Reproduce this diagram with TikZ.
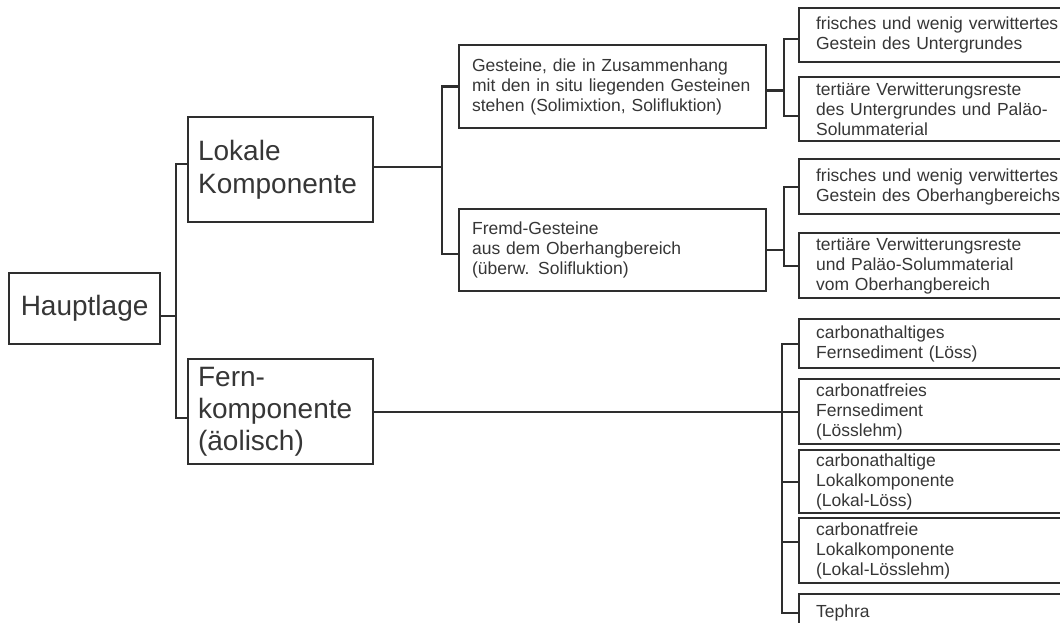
\documentclass[tikz,border=0pt]{standalone}
\usepackage{fontspec}
\setmainfont{Liberation Sans}
\definecolor{linegray}{HTML}{2E2E2E}
\definecolor{textgray}{HTML}{363636}

\begin{document}
\begin{tikzpicture}[x=1pt,y=-1pt,
    box/.style={draw=linegray,line width=2.2pt,text=textgray,anchor=north west,align=left},
    bigbox/.style={box,font=\fontsize{28}{33}\selectfont,inner xsep=10pt,text width=165pt,minimum height=105pt},
    midbox/.style={box,font=\fontsize{17.5}{20}\selectfont,inner ysep=2pt,inner xsep=13pt,text width=281pt},
    leafbox/.style={box,font=\fontsize{17.5}{20}\selectfont,inner ysep=2pt,inner xsep=17pt,text width=260pt},
    link/.style={draw=linegray,line width=2.2pt}]
\useasboundingbox (0,0) rectangle (1060,623);
\clip (0,0) rectangle (1060,623);

% left column
\node[box,font=\fontsize{28}{33}\selectfont,minimum width=151pt,minimum height=71pt,inner xsep=0pt] (haupt) at (8,272) {Hauptlage};
\node[bigbox] (lokal) at (187,116) {Lokale\\Komponente};
\node[bigbox,font=\fontsize{28}{32}\selectfont] (fern) at (187,358) {Fern-\\komponente\\(äolisch)};

% middle column
\node[midbox,minimum height=83pt] (gest) at (458,44) {Gesteine, die in Zusammenhang\\mit den in situ liegenden Gesteinen\\stehen (Solimixtion, Solifluktion)};
\node[midbox,minimum height=82pt] (fremd) at (458,208) {Fremd-Gesteine\\aus dem Oberhangbereich\\(überw. Solifluktion)};

% right column
\node[leafbox,minimum height=54pt] (ug1) at (798,7) {frisches und wenig verwittertes\\Gestein des Untergrundes};
\node[leafbox,minimum height=64pt] (ug2) at (798,76) {tertiäre Verwitterungsreste\\des Untergrundes und Paläo-\\Solummaterial};
\node[leafbox,minimum height=55pt] (oh1) at (798,158) {frisches und wenig verwittertes\\Gestein des Oberhangbereichs};
\node[leafbox,minimum height=65pt] (oh2) at (798,232) {tertiäre Verwitterungsreste\\und Paläo-Solummaterial\\vom Oberhangbereich};
\node[leafbox,minimum height=49pt] (fs1) at (798,318) {carbonathaltiges\\Fernsediment (Löss)};
\node[leafbox,minimum height=65pt] (fs2) at (798,378) {carbonatfreies\\Fernsediment\\(Lösslehm)};
\node[leafbox,minimum height=63pt] (lk1) at (798,449) {carbonathaltige\\Lokalkomponente\\(Lokal-Löss)};
\node[leafbox,minimum height=65pt] (lk2) at (798,517) {carbonatfreie\\Lokalkomponente\\(Lokal-Lösslehm)};
\node[leafbox,minimum height=38pt] (teph) at (798,593) {Tephra};

% brackets
\draw[link] ([yshift=-7pt]haupt.east) -- ++(15,0) coordinate (j0);
\draw[link] ([yshift=6pt]lokal.west) -| (j0) |- ([yshift=-6pt]fern.west);

\draw[link] ([yshift=3pt]lokal.east) -- ++(68,0) coordinate (j1);
\draw[link] (gest.west) -| (j1) |- ([yshift=-4pt]fremd.west);

\draw[link] ([yshift=-4pt]gest.east) -- ++(17,0) coordinate (j2);
\draw[link] ([yshift=-4pt]ug1.west) -| (j2) |- ([yshift=-7pt]ug2.west);

\draw[link] (fremd.east) -- ++(17,0) coordinate (j3);
\draw[link] (oh1.west) -| (j3) |- (oh2.west);

\draw[link] (fern.east) -- (fs2.west);
\draw[link] (fs1.west) -- ++(-16,0) coordinate (j4) -- (j4 |- teph.west) -- (teph.west);
\draw[link] (lk1.west) -- (lk1.west -| j4);
\draw[link] ([yshift=9pt]lk2.west) -- ([yshift=9pt]lk2.west -| j4);
\end{tikzpicture}
\end{document}
